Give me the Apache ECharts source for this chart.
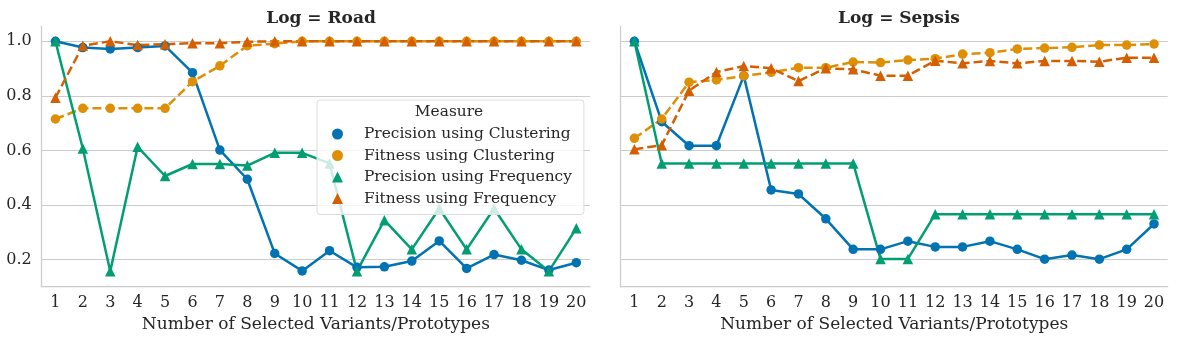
<!DOCTYPE html>
<html>
<head>
<meta charset="utf-8">
<script src="https://cdn.jsdelivr.net/npm/echarts@6/dist/echarts.min.js"></script>
<style>
  html, body { margin: 0; padding: 0; background: #fff; }
  #main { width: 1181px; height: 338px; }
</style>
</head>
<body>
<div id="main"></div>
<script>
// tick labels (x categories)
var xCats = ['1', '2', '3', '4', '5', '6', '7', '8', '9', '10',
    '11', '12', '13', '14', '15', '16', '17', '18', '19', '20'];

var measures = ['Precision using Clustering', 'Fitness using Clustering',
    'Precision using Frequency', 'Fitness using Frequency'];

// Log = Road
var roadPrecClust = [1.0, 0.977, 0.972, 0.977, 0.983, 0.885, 0.601, 0.494, 0.222, 0.158,
    0.232, 0.171, 0.173, 0.194, 0.268, 0.167, 0.218, 0.197, 0.161, 0.188];
var roadFitClust = [0.715, 0.754, 0.754, 0.754, 0.754, 0.852, 0.91, 0.984, 0.991, 1.0,
    1.0, 1.0, 1.0, 1.0, 1.0, 1.0, 1.0, 1.0, 1.0, 1.0];
var roadPrecFreq = [1.0, 0.607, 0.157, 0.613, 0.506, 0.55, 0.55, 0.544, 0.591, 0.591,
    0.552, 0.157, 0.344, 0.237, 0.387, 0.237, 0.387, 0.237, 0.157, 0.314];
var roadFitFreq = [0.793, 0.984, 1.0, 0.986, 0.989, 0.993, 0.993, 0.998, 1.0, 1.0,
    1.0, 1.0, 1.0, 1.0, 1.0, 1.0, 1.0, 1.0, 1.0, 1.0];

// Log = Sepsis
var sepsisPrecClust = [1.0, 0.705, 0.617, 0.617, 0.873, 0.455, 0.44, 0.349, 0.237, 0.237,
    0.267, 0.246, 0.246, 0.267, 0.237, 0.201, 0.216, 0.201, 0.237, 0.33];
var sepsisFitClust = [0.644, 0.715, 0.85, 0.858, 0.873, 0.886, 0.903, 0.903, 0.924, 0.922,
    0.931, 0.936, 0.953, 0.958, 0.972, 0.975, 0.978, 0.986, 0.986, 0.99];
var sepsisPrecFreq = [1.0, 0.552, 0.552, 0.552, 0.552, 0.552, 0.552, 0.552, 0.552, 0.202,
    0.202, 0.366, 0.366, 0.366, 0.366, 0.366, 0.366, 0.366, 0.366, 0.366];
var sepsisFitFreq = [0.604, 0.619, 0.819, 0.887, 0.909, 0.901, 0.854, 0.901, 0.897, 0.874,
    0.874, 0.929, 0.919, 0.928, 0.919, 0.928, 0.928, 0.925, 0.94, 0.94];

var colors = ['#0173b2', '#de8f05', '#029e73', '#d55e00'];
var symbols = ['circle', 'circle', 'triangle', 'triangle'];
var dashed = [false, true, false, true];
var fontFam = '"DejaVu Serif", serif';
var textCol = '#262626';
var gridCol = '#cccccc';

var myChart = echarts.init(document.getElementById('main'));

function makeSeries(idx, data, axisIdx) {
    return {
        name: measures[idx],
        type: 'line',
        xAxisIndex: axisIdx,
        yAxisIndex: axisIdx,
        data: data,
        symbol: symbols[idx],
        symbolSize: symbols[idx] == 'circle' ? 9.5 : 10.5,
        showAllSymbol: true,
        color: colors[idx],
        itemStyle: { color: colors[idx] },
        lineStyle: {
            width: 2.5,
            color: colors[idx],
            type: dashed[idx] ? [9, 4] : 'solid'
        },
        animation: false
    };
}

function makeX(gridIdx) {
    return {
        type: 'category',
        gridIndex: gridIdx,
        data: xCats,
        boundaryGap: true,
        name: 'Number of Selected Variants/Prototypes',
        nameLocation: 'middle',
        nameGap: 25,
        nameTextStyle: { fontFamily: fontFam, fontSize: 17, color: textCol },
        axisLine: { show: true, lineStyle: { color: gridCol, width: 1.25 } },
        axisTick: { show: false },
        axisLabel: { fontFamily: fontFam, fontSize: 16, color: textCol, margin: 8, interval: 0 },
        splitLine: { show: false }
    };
}

function makeY(gridIdx, showLabels) {
    return {
        type: 'value',
        gridIndex: gridIdx,
        min: 0.1,
        max: 1.056,
        axisLine: { show: true, lineStyle: { color: gridCol, width: 1.25 } },
        axisTick: { show: false },
        axisLabel: {
            show: showLabels,
            showMinLabel: false,
            showMaxLabel: false,
            fontFamily: fontFam, fontSize: 16, color: textCol, margin: 10,
            formatter: function (v) { return v.toFixed(1); }
        },
        splitLine: { show: true, showMinLine: false, showMaxLine: false, lineStyle: { color: gridCol, width: 1 } }
    };
}

var option = {
    backgroundColor: '#ffffff',
    animation: false,
    title: [
        { text: 'Log = Road', left: 316, top: 5, textAlign: 'center',
          textStyle: { fontFamily: fontFam, fontSize: 17, fontWeight: 'bold', color: textCol } },
        { text: 'Log = Sepsis', left: 894, top: 5, textAlign: 'center',
          textStyle: { fontFamily: fontFam, fontSize: 17, fontWeight: 'bold', color: textCol } }
    ],
    legend: {
        orient: 'vertical',
        left: 317,
        top: 100,
        padding: [26, 12, 8, 15],
        itemWidth: 11,
        itemHeight: 11,
        itemGap: 5.5,
        backgroundColor: 'rgba(255,255,255,0.8)',
        borderColor: '#dddddd',
        borderWidth: 1,
        borderRadius: 3,
        textStyle: { fontFamily: fontFam, fontSize: 15.4, color: textCol, lineHeight: 16, padding: [0, 0, 0, 16] },
        data: measures.map(function (m, i) {
            return { name: m, icon: symbols[i] };
        }),
        z: 10
    },
    graphic: [{
        type: 'text',
        x: 449,
        y: 112,
        z: 100,
        style: {
            text: 'Measure',
            textAlign: 'center',
            textVerticalAlign: 'middle',
            font: '15.4px "DejaVu Serif", serif',
            fill: textCol
        }
    }],
    grid: [
        { left: 41.7, top: 26, width: 548.3, height: 260.7 },
        { left: 620.7, top: 26, width: 547, height: 260.7 }
    ],
    xAxis: [makeX(0), makeX(1)],
    yAxis: [makeY(0, true), makeY(1, false)],
    series: [
        makeSeries(0, roadPrecClust, 0),
        makeSeries(1, roadFitClust, 0),
        makeSeries(2, roadPrecFreq, 0),
        makeSeries(3, roadFitFreq, 0),
        makeSeries(0, sepsisPrecClust, 1),
        makeSeries(1, sepsisFitClust, 1),
        makeSeries(2, sepsisPrecFreq, 1),
        makeSeries(3, sepsisFitFreq, 1)
    ]
};

myChart.setOption(option, true);
</script>
</body>
</html>
